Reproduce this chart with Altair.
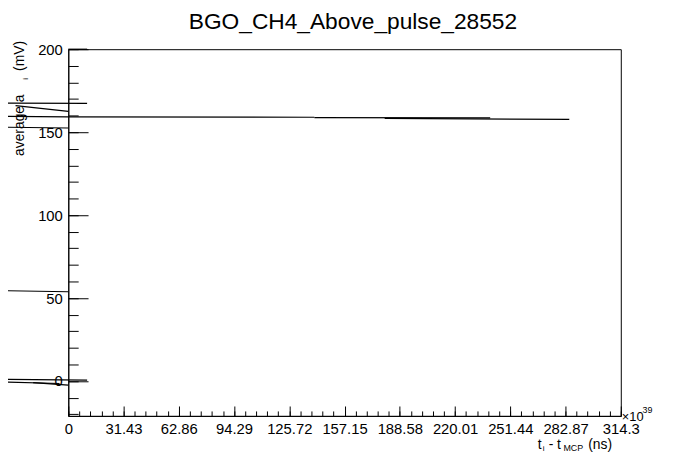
import pandas as pd
import altair as alt

# segments (x in units of 1e39 ns, y in mV)
x_start = [-38.8, -30.0, -38.8, -38.8, -38.8, -38.8, -20.0, -38.8, 0.0, 0.0, 140.0, 180.0]
x_end = [10.7, 0.0, 0.0, 0.0, 0.0, 10.7, 0.0, -5.0, 10.7, 140.0, 240.0, 285.0]
y_start = [167.5, 166.0, 159.5, 153.0, 54.5, 1.0, -1.0, -0.5, 200.0, 159.2, 158.8, 158.3]
y_end = [167.3, 162.5, 159.2, 152.5, 53.8, 0.5, -2.5, -1.5, 200.0, 159.0, 158.6, 157.7]

x_major = [0, 31.43, 62.86, 94.29, 125.72, 157.15, 188.58, 220.01, 251.44, 282.87, 314.3]
x_minor = [round(i * 6.286, 3) for i in range(51)]
y_major = [0, 50, 100, 150, 200]
y_minor = list(range(-20, 201, 10))

W, H = 559, 371
FONT = "Liberation Sans"

df = pd.DataFrame({"x": x_start, "x2": x_end, "y": y_start, "y2": y_end})

xs = alt.Scale(domain=[0, 314.3], nice=False, zero=False)
ys = alt.Scale(domain=[-21, 200], nice=False, zero=False)

base = alt.Chart(df)

segs = base.mark_rule(color="black", strokeWidth=1.2, clip=False).encode(
    x=alt.X("x:Q", scale=xs, axis=alt.Axis(
        orient="bottom", values=x_major, labelExpr="format(datum.value, '.2~f')",
        tickSize=0, title=None, grid=False, domainColor="black",
        labelOverlap=False, labelFlush=False,
        labelFont=FONT, labelFontSize=15, labelColor="black", labelPadding=6)),
    x2="x2:Q",
    y=alt.Y("y:Q", scale=ys, axis=alt.Axis(
        orient="left", values=y_major, tickSize=0, title=None, grid=False,
        labelOverlap=False, labelFlush=False,
        domainColor="black", labelFont=FONT, labelFontSize=15, labelColor="black",
        labelPadding=6)),
    y2="y2:Q",
)

# inward ticks: axes placed on the opposite side and pulled across the plot
major_ticks = base.mark_rule(opacity=0).encode(
    x=alt.X("x:Q", scale=xs, axis=alt.Axis(
        orient="top", offset=-H, values=x_major, labels=False, domain=False,
        tickSize=10, tickColor="black", title=None, grid=False)),
    y=alt.Y("y:Q", scale=ys, axis=alt.Axis(
        orient="right", offset=-W, values=y_major, labels=False, domain=False,
        tickSize=20, tickColor="black", title=None, grid=False)),
)
minor_ticks = base.mark_rule(opacity=0).encode(
    x=alt.X("x:Q", scale=xs, axis=alt.Axis(
        orient="top", offset=-H - 0.01, values=x_minor, labels=False, domain=False,
        tickSize=5, tickColor="black", title=None, grid=False)),
    y=alt.Y("y:Q", scale=ys, axis=alt.Axis(
        orient="right", offset=-W - 0.01, values=y_minor, labels=False, domain=False,
        tickSize=10, tickColor="black", title=None, grid=False)),
)


def txt(s, x, y, size=14, angle=0, align="left"):
    return alt.Chart(pd.DataFrame({"t": [s]})).mark_text(
        font=FONT, fontSize=size, angle=angle, align=align, baseline="alphabetic",
        color="black").encode(text="t:N", x=alt.value(x), y=alt.value(y))


labels = [
    txt("BGO_CH4_Above_pulse_28552", 288, -20, size=23, align="center"),
    txt("×10", 560, 376, size=13),
    txt("39", 581, 368, size=9),
    txt("t", 475, 404, size=14),
    txt("i", 480, 407, size=8),
    txt("- t", 486, 404, size=14),
    txt("MCP", 501, 407, size=9),
    txt("(ns)", 526, 404, size=14),
    txt("average a", -45, 108, size=14, angle=270),
    txt("i", -41, 31, size=8, angle=270),
    txt("(mV)", -45, 22, size=14, angle=270),
]

chart = alt.layer(segs, major_ticks, minor_ticks, *labels).resolve_axis(
    x="independent", y="independent"
).properties(
    width=W, height=H,
    autosize=alt.AutoSizeParams(type="none"),
    padding={"left": 61, "top": 39, "right": 68, "bottom": 46},
    background="white",
).configure_view(stroke="black", strokeWidth=1)

chart.save("out.html", embed_options={"renderer": "svg", "actions": False})
